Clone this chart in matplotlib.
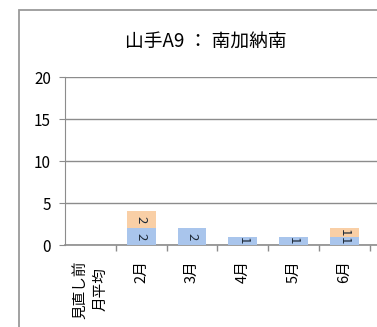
import matplotlib.pyplot as plt
from matplotlib.patches import Rectangle
import numpy as np

plt.rcParams['font.family'] = ['Noto Sans CJK JP', 'DejaVu Sans']

categories = ['見直し前\n月平均', '2月', '3月', '4月', '5月', '6月']
blue_vals = [0, 2, 2, 1, 1, 1]
orange_vals = [0, 2, 0, 0, 0, 1]
title = '山手A9 ： 南加納南'

BLUE = '#a9c5ec'
ORANGE = '#f9cfa6'
GRID = '#8c8c8c'

fig = plt.figure(figsize=(3.77, 3.27), dpi=100)

# outer chart frame (clipped on right / bottom like the scan)
fig.patches.append(Rectangle((19 / 377, -0.1), 1.2, 1 - 10 / 327 + 0.1,
                             transform=fig.transFigure, fill=False,
                             edgecolor='#9a9a9a', linewidth=1.3))

ax = fig.add_axes([65 / 377, 82 / 327, (377 - 65) / 377, 168 / 327])

x = np.arange(len(categories))
ax.bar(x, blue_vals, width=0.57, color=BLUE, zorder=3)
ax.bar(x, orange_vals, width=0.57, bottom=blue_vals, color=ORANGE, zorder=3)

# segment labels
for i in range(len(categories)):
    if blue_vals[i] > 0:
        ax.text(x[i], blue_vals[i] / 2, str(blue_vals[i]), rotation=270,
                ha='center', va='center', fontsize=9.5, color='#1e2a38', zorder=4)
    if orange_vals[i] > 0:
        ax.text(x[i], blue_vals[i] + orange_vals[i] / 2, str(orange_vals[i]),
                rotation=270, ha='center', va='center', fontsize=9.5,
                color='#1e2a38', zorder=4)

ax.set_ylim(0, 20)
ax.set_yticks([0, 5, 10, 15, 20])
ax.set_xlim(-0.5, -0.5 + 312 / 50.8)
ax.yaxis.grid(True, color=GRID, linewidth=1.0, zorder=0)

for s in ['top', 'right']:
    ax.spines[s].set_visible(False)
ax.spines['left'].set_color(GRID)
ax.spines['bottom'].set_color(GRID)
ax.spines['bottom'].set_linewidth(1.2)

# category labels centered, tick marks between categories
ax.set_xticks(x)
ax.set_xticklabels(categories, rotation=90, fontsize=10.5, va='top',
                   linespacing=1.6)
ax.tick_params(axis='x', length=0, pad=11)
ax.set_xticks(np.arange(len(categories)) + 0.5, minor=True)
ax.tick_params(axis='x', which='minor', length=4, color=GRID, width=1)
ax.tick_params(axis='y', length=4, color=GRID, labelsize=11, pad=6)

fig.text(206 / 377, 1 - 42 / 327, title, ha='center', va='center', fontsize=13.5)

fig.savefig('out.png', dpi=100)
